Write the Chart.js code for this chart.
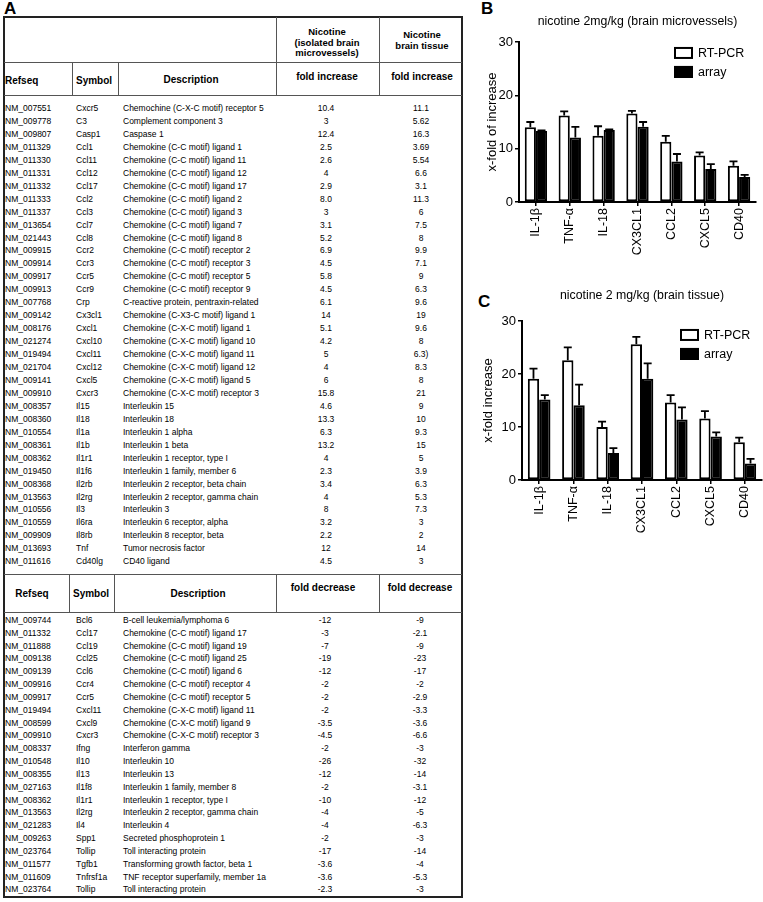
<!DOCTYPE html>
<html>
<head>
<meta charset="utf-8">
<script src="https://cdn.jsdelivr.net/npm/chart.js@4.4.1/dist/chart.umd.min.js"></script>
<style>
  html, body { margin: 0; padding: 0; background: #fff; }
  body { width: 763px; height: 902px; position: relative; overflow: hidden; font-family: 'Liberation Sans', Arial, sans-serif; color: #000; }
  .t { position: absolute; white-space: nowrap; line-height: 1; }
  .d { font-size: 8.5px; }
  .h { font-size: 10px; font-weight: bold; }
  .h1 { font-size: 9.5px; font-weight: bold; text-align: center; }
  .lbl { position: absolute; font-size: 17px; font-weight: bold; line-height: 1; }
  .ln { position: absolute; background: #555; }
  #frame { position: absolute; left: 3px; top: 16px; width: 460px; height: 882px; border: 2px solid #222; box-sizing: border-box; }
  canvas { position: absolute; }
</style>
</head>
<body>
<div class="lbl" style="left:4px;top:0px">A</div>
<div id="frame"></div>
<div class="lbl" style="left:481px;top:0px">B</div>
<div class="lbl" style="left:478px;top:293px">C</div>
<canvas id="chart_b" width="293" height="258" style="left:470px;top:0px"></canvas>
<canvas id="chart_c" width="293" height="292" style="left:470px;top:262px"></canvas>
<script>
// table A: genes with fold increase
const incRefseq = ['NM_007551','NM_009778','NM_009807','NM_011329','NM_011330','NM_011331','NM_011332','NM_011333','NM_011337','NM_013654','NM_021443','NM_009915','NM_009914','NM_009917','NM_009913','NM_007768','NM_009142','NM_008176','NM_021274','NM_019494','NM_021704','NM_009141','NM_009910','NM_008357','NM_008360','NM_010554','NM_008361','NM_008362','NM_019450','NM_008368','NM_013563','NM_010556','NM_010559','NM_009909','NM_013693','NM_011616'];
const incSymbol = ['Cxcr5','C3','Casp1','Ccl1','Ccl11','Ccl12','Ccl17','Ccl2','Ccl3','Ccl7','Ccl8','Ccr2','Ccr3','Ccr5','Ccr9','Crp','Cx3cl1','Cxcl1','Cxcl10','Cxcl11','Cxcl12','Cxcl5','Cxcr3','Il15','Il18','Il1a','Il1b','Il1r1','Il1f6','Il2rb','Il2rg','Il3','Il6ra','Il8rb','Tnf','Cd40lg'];
const incDesc = ['Chemochine (C-X-C motif) receptor 5','Complement component 3','Caspase 1','Chemokine (C-C motif) ligand 1','Chemokine (C-C motif) ligand 11','Chemokine (C-C motif) ligand 12','Chemokine (C-C motif) ligand 17','Chemokine (C-C motif) ligand 2','Chemokine (C-C motif) ligand 3','Chemokine (C-C motif) ligand 7','Chemokine (C-C motif) ligand 8','Chemokine (C-C motif) receptor 2','Chemokine (C-C motif) receptor 3','Chemokine (C-C motif) receptor 5','Chemokine (C-C motif) receptor 9','C-reactive protein, pentraxin-related','Chemokine (C-X3-C motif) ligand 1','Chemokine (C-X-C motif) ligand 1','Chemokine (C-X-C motif) ligand 10','Chemokine (C-X-C motif) ligand 11','Chemokine (C-X-C motif) ligand 12','Chemokine (C-X-C motif) ligand 5','Chemokine (C-X-C motif) receptor 3','Interleukin 15','Interleukin 18','Interleukin 1 alpha','Interleukin 1 beta','Interleukin 1 receptor, type I','Interleukin 1 family, member 6','Interleukin 2 receptor, beta chain','Interleukin 2 receptor, gamma chain','Interleukin 3','Interleukin 6 receptor, alpha','Interleukin 8 receptor, beta','Tumor necrosis factor','CD40 ligand'];
const incMicro = ['10.4','3','12.4','2.5','2.6','4','2.9','8.0','3','3.1','5.2','6.9','4.5','5.8','4.5','6.1','14','5.1','4.2','5','4','6','15.8','4.6','13.3','6.3','13.2','4','2.3','3.4','4','8','3.2','2.2','12','4.5'];
const incTissue = ['11.1','5.62','16.3','3.69','5.54','6.6','3.1','11.3','6','7.5','8','9.9','7.1','9','6.3','9.6','19','9.6','8','6.3)','8.3','8','21','9','10','9.3','15','5','3.9','6.3','5.3','7.3','3','2','14','3'];

// table A: genes with fold decrease
const decRefseq = ['NM_009744','NM_011332','NM_011888','NM_009138','NM_009139','NM_009916','NM_009917','NM_019494','NM_008599','NM_009910','NM_008337','NM_010548','NM_008355','NM_027163','NM_008362','NM_013563','NM_021283','NM_009263','NM_023764','NM_011577','NM_011609','NM_023764'];
const decSymbol = ['Bcl6','Ccl17','Ccl19','Ccl25','Ccl6','Ccr4','Ccr5','Cxcl11','Cxcl9','Cxcr3','Ifng','Il10','Il13','Il1f8','Il1r1','Il2rg','Il4','Spp1','Tollip','Tgfb1','Tnfrsf1a','Tollip'];
const decDesc = ['B-cell leukemia/lymphoma 6','Chemokine (C-C motif) ligand 17','Chemokine (C-C motif) ligand 19','Chemokine (C-C motif) ligand 25','Chemokine (C-C motif) ligand 6','Chemokine (C-C motif) receptor 4','Chemokine (C-C motif) receptor 5','Chemokine (C-X-C motif) ligand 11','Chemokine (C-X-C motif) ligand 9','Chemokine (C-X-C motif) receptor 3','Interferon gamma','Interleukin 10','Interleukin 13','Interleukin 1 family, member 8','Interleukin 1 receptor, type I','Interleukin 2 receptor, gamma chain','Interleukin 4','Secreted phosphoprotein 1','Toll interacting protein','Transforming growth factor, beta 1','TNF receptor superfamily, member 1a','Toll interacting protein'];
const decMicro = ['-12','-3','-7','-19','-12','-2','-2','-2','-3.5','-4.5','-2','-26','-12','-2','-10','-4','-4','-2','-17','-3.6','-3.6','-2.3'];
const decTissue = ['-9','-2.1','-9','-23','-17','-2','-2.9','-3.3','-3.6','-6.6','-3','-32','-14','-3.1','-12','-5','-6.3','-3','-14','-4','-5.3','-3'];

// panels B and C
const genes = ['IL-1\u03b2', 'TNF-\u03b1', 'IL-18', 'CX3CL1', 'CCL2', 'CXCL5', 'CD40'];
const yTicks = [0, 10, 20, 30];
const vesselPcr = [14.0, 16.2, 12.4, 16.6, 11.3, 8.7, 6.8];
const vesselPcrErr = [1.0, 0.8, 1.8, 0.5, 1.1, 0.6, 0.8];
const vesselArray = [13.3, 12.1, 13.5, 14.1, 7.6, 6.2, 4.7];
const vesselArrayErr = [0.1, 2.0, 0.1, 0.9, 1.4, 0.9, 0.4];
const tissuePcr = [19.1, 22.6, 10.0, 25.6, 14.6, 11.6, 7.1];
const tissuePcrErr = [1.9, 2.4, 1.0, 1.4, 1.4, 1.4, 0.9];
const tissueArray = [15.2, 14.1, 5.1, 19.1, 11.4, 8.2, 3.1];
const tissueArrayErr = [0.8, 3.9, 0.9, 2.9, 2.3, 0.8, 0.9];

function put(text, x, y, cls, center) {
  const d = document.createElement('div');
  d.className = 't ' + cls;
  d.textContent = text;
  d.style.left = x + 'px';
  d.style.top = y + 'px';
  d.style.transform = center ? 'translate(-50%,-50%)' : 'translateY(-50%)';
  document.body.appendChild(d);
}
function line(x, y, w, h) {
  const d = document.createElement('div');
  d.className = 'ln';
  d.style.left = x + 'px'; d.style.top = y + 'px';
  d.style.width = w + 'px'; d.style.height = h + 'px';
  document.body.appendChild(d);
}

// header grid
line(4, 62, 458, 1);
line(4, 95, 458, 1);
line(276, 17, 1, 78);
line(379, 17, 1, 78);
line(72, 62, 1, 33);
line(118, 62, 1, 33);
line(4, 574, 458, 1);
line(4, 612, 458, 1);
line(69, 574, 1, 38);
line(114, 574, 1, 38);
line(276, 574, 1, 38);
line(379, 574, 1, 38);

put('Nicotine', 327, 32, 'h1', true);
put('(isolated brain', 327, 42.5, 'h1', true);
put('microvessels)', 327, 53, 'h1', true);
put('Nicotine', 422, 35, 'h1', true);
put('brain tissue', 422, 46, 'h1', true);
put('Refseq', 5, 81, 'h', false);
put('Symbol', 76, 81, 'h', false);
put('Description', 191, 80, 'h', true);
put('fold increase', 327, 77, 'h', true);
put('fold increase', 422, 77, 'h', true);

put('Refseq', 32, 594, 'h', true);
put('Symbol', 73, 594, 'h', false);
put('Description', 198, 594, 'h', true);
put('fold decrease', 323, 588, 'h', true);
put('fold decrease', 420, 588, 'h', true);

incRefseq.forEach((r, i) => {
  const y = 108 + i * 12.95;
  put(r, 5, y, 'd', false);
  put(incSymbol[i], 76, y, 'd', false);
  put(incDesc[i], 123, y, 'd', false);
  put(incMicro[i], 326, y, 'd', true);
  put(incTissue[i], 421, y, 'd', true);
});
decRefseq.forEach((r, i) => {
  const y = 620 + i * 12.83;
  put(r, 5, y, 'd', false);
  put(decSymbol[i], 76, y, 'd', false);
  put(decDesc[i], 123, y, 'd', false);
  put(decMicro[i], 325, y, 'd', true);
  put(decTissue[i], 420, y, 'd', true);
});

const chartFont = "'Liberation Sans', Arial, sans-serif";

// upward SEM whiskers
const errorBars = {
  id: 'errorBars',
  afterDatasetsDraw(chart, args, opts) {
    const ctx = chart.ctx;
    const ys = chart.scales.y;
    chart.data.datasets.forEach((ds, i) => {
      chart.getDatasetMeta(i).data.forEach((bar, j) => {
        const top = ys.getPixelForValue(ds.data[j] + ds.errors[j]);
        ctx.save();
        ctx.strokeStyle = '#000';
        ctx.lineWidth = 1.8;
        ctx.beginPath();
        ctx.moveTo(bar.x, bar.y);
        ctx.lineTo(bar.x, top);
        ctx.moveTo(bar.x - opts.cap, top);
        ctx.lineTo(bar.x + opts.cap, top);
        ctx.stroke();
        ctx.restore();
      });
    });
  }
};

// legend boxes inside the plot, top right
const boxLegend = {
  id: 'boxLegend',
  afterDraw(chart, args, opts) {
    const {ctx, chartArea} = chart;
    let x = chartArea.right - opts.right;
    let y = chartArea.top + opts.top;
    chart.data.datasets.forEach((ds) => {
      ctx.save();
      ctx.fillStyle = ds.backgroundColor;
      ctx.fillRect(x, y, 19, 12);
      ctx.strokeStyle = '#000';
      ctx.lineWidth = 2;
      ctx.strokeRect(x + 1, y + 1, 17, 10);
      ctx.fillStyle = '#000';
      ctx.font = '12.5px ' + chartFont;
      ctx.textBaseline = 'middle';
      ctx.fillText(ds.label, x + 24, y + 6.5);
      ctx.restore();
      y += opts.gap;
    });
  }
};

function makeConfig(title, yTitle, pcr, pcrErr, arr, arrErr, o) {
  return {
    type: 'bar',
    data: {
      labels: genes,
      datasets: [{
        label: 'RT-PCR',
        data: pcr,
        errors: pcrErr,
        backgroundColor: '#ffffff',
        borderColor: '#000',
        borderWidth: 2,
        borderSkipped: false
      }, {
        label: 'array',
        data: arr,
        errors: arrErr,
        backgroundColor: '#000000',
        borderColor: '#000',
        borderWidth: 2,
        borderSkipped: false
      }]
    },
    options: {
      responsive: false,
      animation: false,
      layout: { padding: { left: 0, right: o.right, top: 0, bottom: 0 } },
      datasets: { bar: { categoryPercentage: 0.66, barPercentage: 1.0 } },
      plugins: {
        legend: { display: false },
        tooltip: { enabled: false },
        title: {
          display: true,
          text: title,
          fullSize: false,
          color: '#000',
          font: { family: chartFont, size: 12.3, weight: 'normal' },
          padding: { top: o.titleTop, bottom: o.titleBottom }
        },
        errorBars: { cap: 4 },
        boxLegend: { right: 82, top: o.legendTop, gap: 19 }
      },
      scales: {
        x: {
          afterFit: (s) => { s.height = o.xHeight; },
          border: { display: true, color: '#000', width: 2 },
          grid: { display: true, drawOnChartArea: false, drawTicks: true, tickLength: 4, color: '#000', lineWidth: 1.5, offset: false },
          ticks: { color: '#000', minRotation: 90, maxRotation: 90, padding: 2, font: { family: chartFont, size: 12.5 } }
        },
        y: {
          min: 0,
          max: 30,
          afterFit: (s) => { s.width = o.yWidth; },
          afterBuildTicks: (s) => { s.ticks = yTicks.map((v) => ({ value: v })); },
          border: { display: true, color: '#000', width: 2 },
          grid: { display: true, drawOnChartArea: false, drawTicks: true, tickLength: 4, color: '#000', lineWidth: 1.5 },
          ticks: { color: '#000', padding: 2, font: { family: chartFont, size: 13 } },
          title: {
            display: true,
            text: yTitle,
            color: '#000',
            font: { family: chartFont, size: 13 },
            padding: { top: o.yTitlePad, bottom: 0 }
          }
        }
      }
    },
    plugins: [errorBars, boxLegend]
  };
}

var chart_b = new Chart(
  document.getElementById('chart_b'),
  makeConfig('nicotine 2mg/kg (brain microvessels)', 'x-fold of increase',
    vesselPcr, vesselPcrErr, vesselArray, vesselArrayErr,
    { right: 7, titleTop: 14.6, titleBottom: 12.6, xHeight: 56, yWidth: 49, yTitlePad: 14.2, legendTop: 5 })
);

var chart_c = new Chart(
  document.getElementById('chart_c'),
  makeConfig('nicotine 2 mg/kg (brain tissue)', 'x-fold increase',
    tissuePcr, tissuePcrErr, tissueArray, tissueArrayErr,
    { right: 1, titleTop: 26.6, titleBottom: 17.6, xHeight: 74, yWidth: 52, yTitlePad: 10.2, legendTop: 8 })
);
</script>
</body>
</html>
